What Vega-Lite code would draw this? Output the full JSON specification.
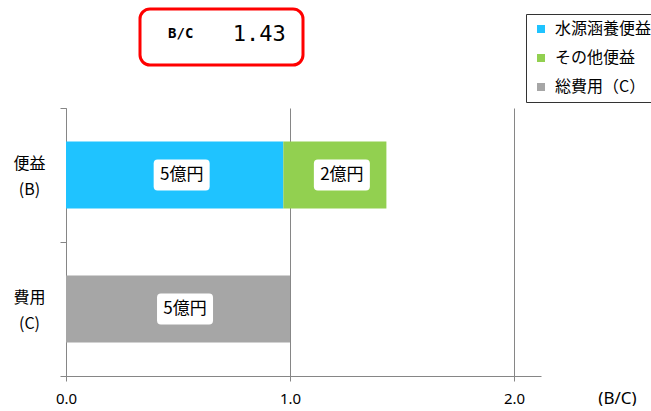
{
  "$schema": "https://vega.github.io/schema/vega-lite/v6.json",
  "padding": {"left": 12, "top": 7, "right": 0, "bottom": 0},
  "background": "white",
  "config": {"view": {"stroke": null}, "font": "Noto Sans CJK JP"},
  "bounds": "flush",
  "spacing": 99,
  "vconcat": [
    {
      "bounds": "flush",
      "spacing": 0,
      "hconcat": [
        {
          "width": 74,
          "height": 56,
          "data": {"values": [{"t": ""}]},
          "mark": {"type": "text"},
          "encoding": {"text": {"field": "t"}}
        },
        {
          "width": 163,
          "height": 56,
          "view": {"stroke": "#FF0000", "strokeWidth": 3, "cornerRadius": 10, "fill": "white"},
          "data": {"values": [{"part": "B/C"}, {"part": "1.43"}]},
          "encoding": {
            "x": {"field": "part", "type": "nominal", "sort": null, "axis": null},
            "text": {"field": "part"},
            "color": {"value": "black"}
          },
          "layer": [
            {
              "transform": [{"filter": "datum.part === 'B/C'"}],
              "mark": {"type": "text", "font": "DejaVu Sans Mono", "fontWeight": "bold", "fontSize": 14, "baseline": "middle", "dy": -3}
            },
            {
              "transform": [{"filter": "datum.part === '1.43'"}],
              "mark": {"type": "text", "font": "DejaVu Sans Mono", "fontSize": 22, "baseline": "middle", "dy": -3, "dx": -3}
            }
          ]
        }
      ]
    },
    {
      "width": 475,
      "height": 268,
      "data": {
        "values": [
          {"cat": "便益 (B)", "type": "水源涵養便益", "value": 0.97, "label": "5億円", "ord": 1},
          {"cat": "便益 (B)", "type": "その他便益", "value": 0.46, "label": "2億円", "ord": 2},
          {"cat": "費用 (C)", "type": "総費用（C）", "value": 1.0, "label": "5億円", "ord": 3}
        ]
      },
      "transform": [
        {"stack": "value", "groupby": ["cat"], "sort": [{"field": "ord"}], "as": ["x0", "x1"]},
        {"calculate": "(datum.x0 + datum.x1) / 2", "as": "xm"}
      ],
      "encoding": {
        "y": {
          "field": "cat",
          "type": "nominal",
          "sort": null,
          "scale": {"paddingInner": 0, "paddingOuter": 0},
          "axis": {
            "title": null,
            "labelExpr": "split(datum.label, ' ')",
            "labelAlign": "center",
            "labelBaseline": "middle",
            "labelPadding": 31,
            "labelOffset": -12,
            "labelFontSize": 16,
            "labelLineHeight": 26,
            "labelColor": "black",
            "labelFont": "Noto Sans CJK JP",
            "domainColor": "#868686",
            "tickColor": "#868686",
            "tickSize": 6,
            "tickBand": "extent",
            "grid": false
          }
        }
      },
      "layer": [
        {
          "mark": {"type": "bar", "height": {"band": 0.5}},
          "encoding": {
            "x": {
              "field": "x0",
              "type": "quantitative",
              "scale": {"domain": [0, 2.12], "nice": false},
              "axis": {
                "values": [0, 1, 2],
                "format": ".1f",
                "grid": true,
                "gridColor": "#868686",
                "domainColor": "#868686",
                "tickColor": "#868686",
                "tickSize": 5,
                "labelFlush": false,
                "labelFontSize": 15,
                "labelPadding": 10,
                "labelColor": "black",
                "labelFont": "Noto Sans",
                "title": "(B/C)",
                "titleX": 551,
                "titleY": 22,
                "titleBaseline": "middle",
                "titleAlign": "center",
                "titleFontWeight": "normal",
                "titleFontSize": 17,
                "titleColor": "black",
                "titleFont": "Noto Sans"
              }
            },
            "x2": {"field": "x1"},
            "color": {
              "field": "type",
              "type": "nominal",
              "scale": {
                "domain": ["水源涵養便益", "その他便益", "総費用（C）"],
                "range": ["#1FC3FF", "#92D050", "#A6A6A6"]
              },
              "legend": {
                "title": null,
                "orient": "none",
                "legendX": 460,
                "legendY": 5,
                "symbolType": "square",
                "symbolSize": 64,
                "symbolStrokeWidth": 0,
                "labelFontSize": 16,
                "labelFont": "Noto Sans CJK JP",
                "labelColor": "black",
                "labelOffset": 6,
                "labelLimit": 200,
                "strokeColor": "#333333",
                "fillColor": "white",
                "padding": 7,
                "rowPadding": 13
              }
            }
          }
        },
        {
          "mark": {
            "type": "point",
            "shape": "M-0.86,-0.55 L0.86,-0.55 Q1,-0.55 1,-0.41 L1,0.41 Q1,0.55 0.86,0.55 L-0.86,0.55 Q-1,0.55 -1,0.41 L-1,-0.41 Q-1,-0.55 -0.86,-0.55 Z",
            "filled": true,
            "color": "white",
            "opacity": 1,
            "size": 3136,
            "xOffset": 7
          },
          "encoding": {"x": {"field": "xm", "type": "quantitative"}}
        },
        {
          "mark": {"type": "text", "fontSize": 17, "color": "black", "baseline": "middle", "xOffset": 7, "font": "Noto Sans CJK JP"},
          "encoding": {"x": {"field": "xm", "type": "quantitative"}, "text": {"field": "label"}}
        }
      ]
    }
  ]
}
